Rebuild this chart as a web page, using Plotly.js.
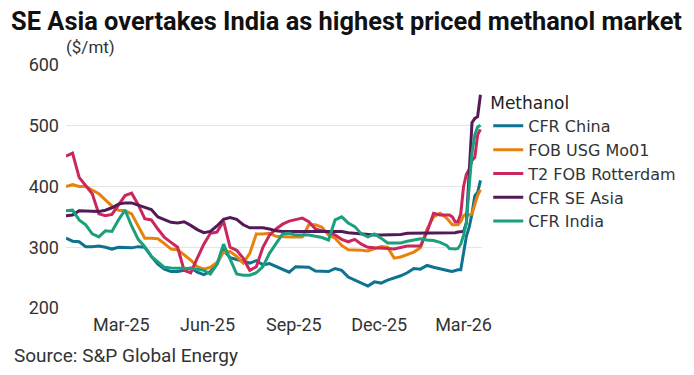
<!DOCTYPE html>
<html>
<head>
<meta charset="utf-8">
<script src="https://cdn.plot.ly/plotly-3.0.1.min.js"></script>
<style>html,body{margin:0;padding:0;background:#fff;}#chart{width:694px;height:375px;}</style>
</head>
<body>
<div id="chart"></div>
<script>
const dates = ["2025-01-01","2025-01-08","2025-01-15","2025-01-22","2025-01-29","2025-02-05","2025-02-12","2025-02-19","2025-02-26","2025-03-05","2025-03-12","2025-03-19","2025-03-26","2025-04-02","2025-04-09","2025-04-16","2025-04-23","2025-04-30","2025-05-07","2025-05-14","2025-05-21","2025-05-28","2025-06-04","2025-06-11","2025-06-18","2025-06-25","2025-07-02","2025-07-09","2025-07-16","2025-07-23","2025-07-30","2025-08-06","2025-08-13","2025-08-20","2025-08-27","2025-09-03","2025-09-10","2025-09-17","2025-09-24","2025-10-01","2025-10-08","2025-10-15","2025-10-22","2025-10-29","2025-11-05","2025-11-12","2025-11-19","2025-11-26","2025-12-03","2025-12-10","2025-12-17","2025-12-24","2025-12-31","2026-01-07","2026-01-14","2026-01-21","2026-01-28","2026-02-04","2026-02-11","2026-02-14","2026-02-17","2026-02-20","2026-02-23","2026-02-26","2026-03-01","2026-03-04","2026-03-07","2026-03-10","2026-03-13","2026-03-16","2026-03-19"];

const cfrChina = [315,310,309,301,301,302,300,297,300,300,299,301,300,285,272,264,260,260,262,266,259,255,260,272,295,283,280,277,274,278,271,273,268,263,259,268,268,267,261,261,260,265,262,251,246,240,236,243,241,246,249,253,258,265,264,270,267,265,262,261,260,262,263,263,290,318,333,355,385,390,410];

const fobUsg = [400,403,400,400,394,388,378,368,361,360,355,336,315,315,314,306,297,296,287,279,268,264,267,275,292,293,285,274,290,322,322,323,318,317,317,317,317,337,337,333,320,315,303,296,296,295,294,298,301,300,282,284,288,292,299,330,350,356,348,342,337,337,337,342,352,355,353,355,370,385,395];

const t2Rotterdam = [450,455,415,402,388,355,352,354,370,385,389,370,347,345,330,316,308,300,262,258,282,305,323,325,343,300,295,282,262,268,300,320,330,338,343,346,348,342,330,327,325,320,313,309,313,305,300,299,299,298,297,299,302,302,302,325,356,353,353,353,350,342,342,355,400,420,428,443,448,485,494];

const cfrSeAsia = [352,353,360,360,360,359,361,365,371,373,373,369,366,362,350,345,341,340,342,336,329,324,326,335,346,349,346,337,332,332,332,330,327,326,326,326,326,326,326,326,326,326,326,324,323,321,320,320,320,320,320,321,323,323,324,324,324,324,324,324,324,324,325,326,326,340,420,505,512,515,551];

const cfrIndia = [360,361,345,337,322,317,327,326,345,361,335,313,301,285,276,267,266,266,266,265,264,262,256,272,305,280,256,254,254,258,268,290,305,322,323,320,320,320,318,316,312,345,350,340,334,322,317,322,315,307,307,307,310,312,314,312,311,308,303,298,297,297,298,305,320,340,400,455,485,498,501];

const seriesNames = ["CFR China","FOB USG Mo01","T2 FOB Rotterdam","CFR SE Asia","CFR India"];
const seriesValues = [cfrChina, fobUsg, t2Rotterdam, cfrSeAsia, cfrIndia];
const seriesColors = ["#0e7391","#e8820e","#c9285c","#521b58","#1ba07d"];

const tickVals = ["2025-03-01","2025-06-01","2025-09-01","2025-12-01","2026-03-01"];
const tickText = ["Mar-25","Jun-25","Sep-25","Dec-25","Mar-26"];

const FONT = "Roboto, 'Liberation Sans', sans-serif";
const LEGFONT = "'DejaVu Sans', Roboto, sans-serif";

const traces = seriesNames.map((n,i)=>({
  type:'scatter', mode:'lines', name:n, x:dates, y:seriesValues[i],
  line:{color:seriesColors[i], width:3}, hoverinfo:'x+y+name'
}));

const layout = {
  width:694, height:375,
  margin:{l:66, r:206, t:65, b:67, pad:0},
  paper_bgcolor:'#fff', plot_bgcolor:'#fff',
  font:{family:FONT, size:18, color:'#222'},
  title:{text:'<b>SE Asia overtakes India as highest priced methanol market</b>', x:0.016, xanchor:'left', xref:'container', y:0.945, yanchor:'middle', font:{family:FONT, size:25.4, color:'#111'}},
  xaxis:{type:'date', range:['2025-01-01','2026-03-20 16:00'], tickvals:tickVals, ticktext:tickText, showgrid:false, zeroline:false, showline:false, ticks:'', ticklabelstandoff:4, tickfont:{size:18, color:'#333'}, fixedrange:true},
  yaxis:{range:[200,600], tickvals:[200,300,400,500,600], showgrid:true, gridcolor:'#e5e5e5', gridwidth:1, zeroline:false, showline:false, ticks:'', ticklabelstandoff:6, tickfont:{size:18, color:'#333'}, fixedrange:true},
  showlegend:true,
  legend:{x:1.015, xanchor:'left', y:0.91, yanchor:'top', font:{family:LEGFONT, size:16, color:'#333'}, title:{text:'Methanol', font:{family:LEGFONT, size:17, color:'#222'}}, itemwidth:30, tracegroupgap:0, bgcolor:'rgba(0,0,0,0)'},
  annotations:[
    {text:'($/mt)', xref:'paper', yref:'paper', x:-0.005, xanchor:'left', y:1.0, yshift:6, yanchor:'bottom', showarrow:false, font:{size:17, color:'#333'}},
    {text:'Source: S&P Global Energy', xref:'paper', yref:'paper', x:-0.13, xanchor:'left', y:-0.14, yanchor:'top', showarrow:false, font:{size:19, color:'#333'}}
  ]
};

Plotly.newPlot('chart', traces, layout, {displayModeBar:false, staticPlot:true});
</script>
</body>
</html>
